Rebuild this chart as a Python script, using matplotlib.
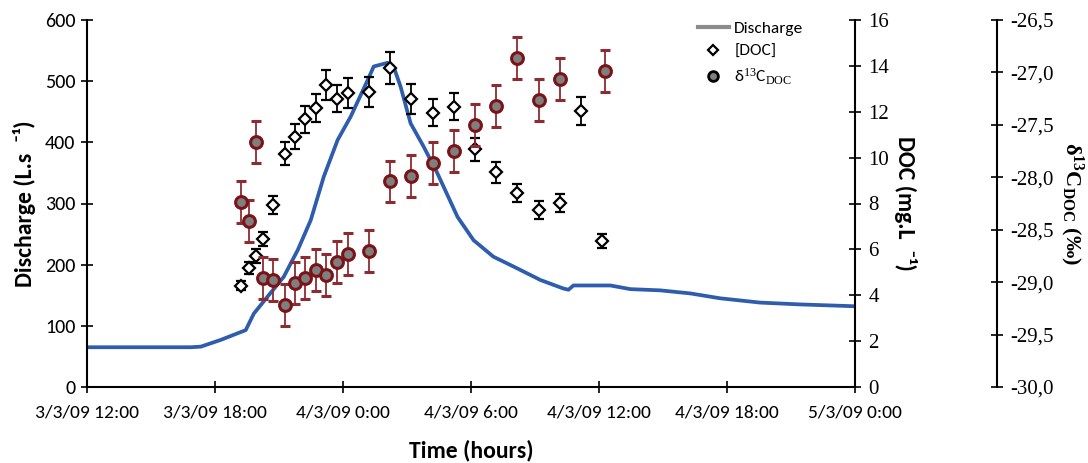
import matplotlib
matplotlib.use("Agg")
import matplotlib.pyplot as plt
from matplotlib.lines import Line2D
import numpy as np

plt.rcParams["mathtext.fontset"] = "custom"
plt.rcParams["mathtext.rm"] = "Liberation Serif"
plt.rcParams["mathtext.it"] = "Liberation Serif:italic"
plt.rcParams["mathtext.bf"] = "Liberation Serif:bold"

# ---- data (hours after 3/3/09 12:00) ----
q_hours = [0.0, 4.87, 5.34, 6.27, 7.44, 7.82, 8.47, 9.22, 9.88, 10.49, 11.10, 11.75,
           12.36, 13.16, 13.44, 14.09, 14.37, 14.70, 15.17, 15.78, 16.43, 17.37,
           18.12, 19.05, 19.99, 21.25, 22.33, 22.57, 22.80, 24.53, 25.47, 26.87,
           28.28, 29.68, 31.55, 33.43, 36.0]
discharge = [65, 65, 66, 77, 93, 120, 148, 180, 224, 273, 344, 404,
             442, 502, 524, 530, 524, 491, 431, 393, 349, 278,
             240, 213, 197, 175, 161, 159, 166, 166, 160, 158,
             153, 145, 138, 135, 132]

doc_hours = [7.24, 7.60, 7.91, 8.24, 8.74, 9.26, 9.75, 10.24, 10.74, 11.22, 11.72,
             12.22, 13.24, 14.22, 15.20, 16.21, 17.21, 18.20, 19.18, 20.16, 21.19,
             22.18, 23.14, 24.16]
doc = [4.42, 5.19, 5.72, 6.46, 7.93, 10.16, 10.91, 11.67, 12.16, 13.15, 12.57,
       12.80, 12.87, 13.89, 12.54, 11.96, 12.22, 10.36, 9.36, 8.46, 7.72,
       8.03, 12.04, 6.35]
doc_err = [0.2, 0.25, 0.3, 0.3, 0.4, 0.5, 0.55, 0.6, 0.6, 0.65, 0.6,
           0.65, 0.65, 0.7, 0.65, 0.6, 0.6, 0.5, 0.45, 0.4, 0.4,
           0.4, 0.6, 0.3]

d13_hours = [7.24, 7.60, 7.91, 8.24, 8.74, 9.26, 9.75, 10.24, 10.74, 11.22, 11.72,
             12.22, 13.24, 14.22, 15.20, 16.21, 17.21, 18.20, 19.18, 20.16, 21.19,
             22.18, 24.30]
d13c = [-28.24, -28.42, -27.66, -28.96, -28.98, -29.22, -29.01, -28.96, -28.88,
        -28.93, -28.81, -28.73, -28.70, -28.04, -27.99, -27.86, -27.75, -27.50,
        -27.32, -26.86, -27.26, -27.06, -26.99]
d13c_err = [0.2] * 23

x_ticks = [0, 6, 12, 18, 24, 30, 36]
x_ticklabels = ["3/3/09 12:00", "3/3/09 18:00", "4/3/09 0:00", "4/3/09 6:00",
                "4/3/09 12:00", "4/3/09 18:00", "5/3/09 0:00"]
d13_ticks = [-30.0, -29.5, -29.0, -28.5, -28.0, -27.5, -27.0, -26.5]
d13_ticklabels = ["-30,0", "-29,5", "-29,0", "-28,5", "-28,0", "-27,5", "-27,0", "-26,5"]

sans = ["Carlito", "Lato", "DejaVu Sans"]
serif = ["Liberation Serif", "DejaVu Serif"]

fig = plt.figure(figsize=(10.88, 4.63), dpi=100)
ax = fig.add_axes([87/1088, 1-387/463, (855-87)/1088, (387-20)/463])

ax.plot(q_hours, discharge, color="#2F5DAE", lw=2.7, zorder=2)
ax.set_xlim(0, 36)
ax.set_ylim(0, 600)
ax.set_yticks(range(0, 601, 100))
ax.set_xticks(x_ticks)
ax.set_xticklabels(x_ticklabels)
ax.tick_params(axis="both", direction="inout", length=9, width=1.2, colors="black",
               labelfontfamily=sans)
ax.tick_params(axis="x", pad=8, labelsize=14)
ax.tick_params(axis="y", pad=4, labelsize=14.5)
for s in ["top", "right"]:
    ax.spines[s].set_visible(False)
for s in ["left", "bottom"]:
    ax.spines[s].set_linewidth(1.5)
ax.set_ylabel("Discharge (L.s  ⁻¹)", family=sans, fontsize=17, fontweight="bold", labelpad=6)
ax.set_xlabel("Time (hours)", family=sans, fontsize=17, fontweight="bold", labelpad=14)

# DOC axis
ax2 = ax.twinx()
ax2.set_ylim(0, 16)
ax2.set_yticks(range(0, 17, 2))
ax2.errorbar(doc_hours, doc, yerr=doc_err, fmt="D", ms=6.5, mfc="white", mec="black",
             mew=1.6, ecolor="black", elinewidth=1.3, capsize=3.5, capthick=1.3, zorder=4)
for s in ["top", "left", "bottom"]:
    ax2.spines[s].set_visible(False)
ax2.spines["right"].set_linewidth(1.5)
ax2.tick_params(axis="y", direction="inout", length=9, width=1.2, pad=5,
                labelfontfamily=serif, labelsize=15)
ax2.set_ylabel("DOC (mg.L  ⁻¹)", family=sans, fontsize=17, fontweight="bold",
               rotation=270, labelpad=20)

# d13C axis
ax3 = ax.twinx()
ax3.spines["right"].set_position(("axes", 1.1855))
ax3.set_ylim(-30.0, -26.5)
ax3.set_yticks(d13_ticks)
ax3.set_yticklabels(d13_ticklabels)
ax3.errorbar(d13_hours, d13c, yerr=d13c_err, fmt="o", ms=8.5, mfc="#7F7F7F", mec="#7A1418",
             mew=2.2, ecolor="#8E2B30", elinewidth=1.3, capsize=3.5, capthick=1.3, zorder=3)
for s in ["top", "left", "bottom"]:
    ax3.spines[s].set_visible(False)
ax3.spines["right"].set_linewidth(1.5)
ax3.tick_params(axis="y", direction="inout", length=9, width=1.2, pad=5,
                labelfontfamily=serif, labelsize=15)
ax3.set_ylabel(r"$\mathbf{\delta^{13}C_{DOC}}$ (‰)", family=serif, fontsize=16,
               fontweight="bold", rotation=270, labelpad=22)

handles = [
    Line2D([], [], color="#8C8C8C", lw=3),
    Line2D([], [], ls="none", marker="D", ms=5.5, mfc="white", mec="black", mew=1.6),
    Line2D([], [], ls="none", marker="o", ms=7, mfc="#7F7F7F", mec="black", mew=2),
]
labels = ["Discharge", "[DOC]", r"δ$^{13}$C$_{\rm DOC}$"]
ax.legend(handles, labels, loc="upper left", bbox_to_anchor=(0.775, 1.04),
          frameon=False, handlelength=1.8, handletextpad=0.3, labelspacing=0.45,
          prop={"family": sans, "size": 12.5})

fig.savefig("out.png", dpi=100)
